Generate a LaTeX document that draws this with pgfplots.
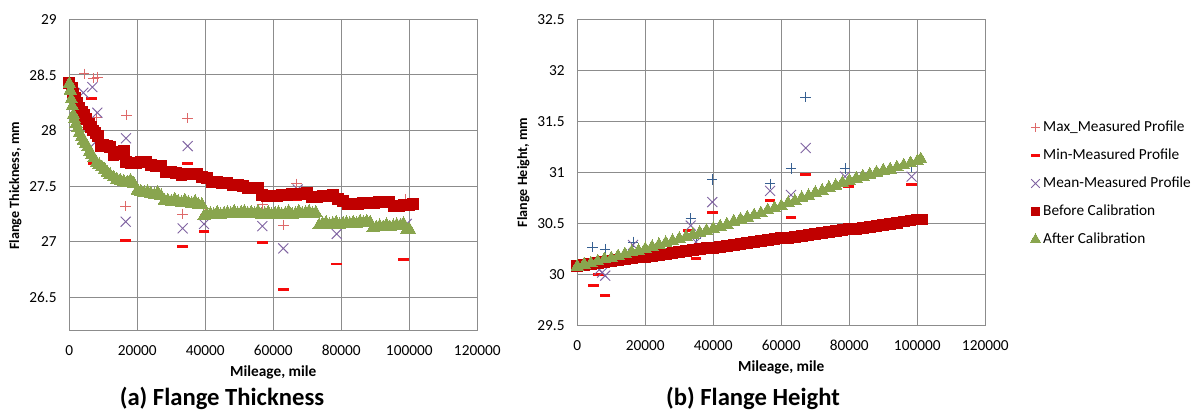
\documentclass[border=0pt]{standalone}
\usepackage{pgfplots}
\pgfplotsset{compat=1.18}
\usepackage{fontspec}
\setmainfont{Carlito}
\definecolor{gridgray}{RGB}{140,140,140}
\definecolor{maxpink}{RGB}{222,105,105}
\definecolor{maxblue}{RGB}{55,96,146}
\definecolor{minred}{RGB}{245,10,10}
\definecolor{meanpurple}{RGB}{128,100,162}
\definecolor{beforered}{RGB}{192,0,0}
\definecolor{aftergreen}{RGB}{137,165,78}
\pgfplotsset{
  exstyle/.style={
    scale only axis, width=306pt,
    xmin=0, xmax=120000, xtick={0,20000,40000,60000,80000,100000,120000},
    xticklabels={0,20000,40000,60000,80000,100000,120000},
    scaled x ticks=false, scaled y ticks=false,
    grid=major, major grid style={line width=0.8pt, color=gridgray},
    axis line style={line width=0.8pt, color=gridgray},
    major tick length=0pt,
    tick label style={font=\fontsize{11.5}{13}\selectfont, text=black},
    xticklabel style={anchor=center, yshift=-15pt},
    yticklabel style={anchor=east, xshift=-6pt},
    every axis x label/.style={at={(rel axis cs:0.5,0)}, anchor=center, yshift=-31.5pt, font=\bfseries\fontsize{11.5}{13}\selectfont},
  },
  maxL/.style={only marks, mark=+, mark size=3.9pt, color=maxpink, line width=0.6pt},
  maxR/.style={only marks, mark=+, mark size=3.9pt, color=maxblue, line width=0.6pt},
  minS/.style={only marks, mark=-, mark size=4pt, color=minred, line width=2.2pt},
  meanS/.style={only marks, mark=x, mark size=5.3pt, color=meanpurple, line width=0.7pt},
  befS/.style={only marks, mark=square*, mark size=4.1pt, color=beforered, mark options={draw=beforered, fill=beforered, line width=0pt}},
  aftS/.style={only marks, mark=triangle*, mark size=5.4pt, color=aftergreen, mark options={draw=aftergreen, fill=aftergreen, line width=0pt}},
}
\begin{document}
\begin{tikzpicture}
\useasboundingbox (0,0) rectangle (897.75pt,309pt);
% ---------------- (a) Flange Thickness ----------------
\begin{axis}[exstyle, height=233.55pt, at={(51.98pt,60.98pt)}, anchor=south west,
  ymin=26.2, ymax=29, ytick={26.5,27,27.5,28,28.5,29},
  yticklabels={26.5,27,27.5,28,28.5,29},
  every axis y label/.style={at={(rel axis cs:0,0.465)}, xshift=-40.5pt, rotate=90, anchor=center, font=\bfseries\fontsize{10.6}{12}\selectfont},
  xlabel={Mileage, mile}, ylabel={Flange Thickness, mm}]
\addplot[maxL] coordinates {(4400,28.51)(7060,28.47)(8350,28.48)(8060,28.12)(16880,28.14)(34820,28.11)(16580,27.32)(33350,27.25)(40100,27.25)(56770,27.34)(66880,27.52)(62940,27.15)(78640,27.43)(98730,27.38)};
\addplot[minS] coordinates {(6590,28.29)(7060,27.70)(16880,27.68)(34820,27.70)(16580,27.01)(33350,26.96)(39620,27.09)(56770,26.99)(66880,27.38)(62940,26.57)(78640,26.80)(98240,26.84)};
\addplot[meanS] coordinates {(4120,28.34)(6770,28.39)(8240,28.16)(7850,27.90)(16680,27.93)(34820,27.86)(16580,27.18)(33350,27.12)(39620,27.16)(56770,27.14)(67170,27.47)(62940,26.94)(78640,27.07)(99230,27.16)};
\addplot[befS] coordinates {(0,28.43)(700,28.38)(1200,28.33)(1700,28.29)(2300,28.25)(3000,28.20)(3600,28.17)(4300,28.14)(5000,28.10)(5700,28.06)(6300,28.03)(7000,28.00)(7700,27.98)(8400,27.95)(9200,27.86)(10000,27.87)(11000,27.86)(12000,27.85)(13000,27.78)(14000,27.79)(15000,27.81)(16000,27.82)(16700,27.72)(18000,27.71)(19500,27.71)(21000,27.72)(22500,27.72)(24000,27.69)(25500,27.68)(27000,27.68)(28500,27.63)(30000,27.63)(31500,27.62)(33000,27.60)(34500,27.61)(36000,27.61)(37500,27.61)(39000,27.58)(40500,27.57)(42000,27.54)(43500,27.54)(45000,27.53)(46500,27.53)(48000,27.51)(49500,27.51)(51000,27.50)(52500,27.48)(54000,27.48)(55500,27.48)(56700,27.42)(58000,27.41)(59500,27.41)(61000,27.41)(62500,27.42)(64000,27.42)(65500,27.43)(67000,27.43)(68500,27.43)(70000,27.44)(71500,27.40)(73000,27.40)(74500,27.41)(76000,27.41)(77500,27.42)(79000,27.38)(80500,27.37)(82000,27.34)(83500,27.34)(85000,27.34)(86500,27.35)(88000,27.35)(89500,27.35)(91000,27.36)(92500,27.36)(94000,27.36)(95500,27.32)(97000,27.32)(98500,27.33)(100000,27.33)(101200,27.34)};
\addplot[aftS] coordinates {(0,28.42)(300,28.36)(600,28.28)(900,28.22)(1200,28.14)(1500,28.10)(2000,28.06)(2500,28.02)(3000,27.98)(3600,27.94)(4200,27.91)(4800,27.88)(5400,27.85)(6000,27.81)(6600,27.78)(7200,27.75)(8000,27.71)(8800,27.69)(9600,27.67)(10400,27.65)(11200,27.62)(12000,27.60)(13000,27.58)(14000,27.56)(15000,27.55)(16000,27.54)(17000,27.53)(18000,27.55)(19000,27.52)(20000,27.46)(21000,27.45)(22000,27.44)(23000,27.45)(24000,27.43)(25000,27.42)(26000,27.44)(27000,27.41)(28000,27.37)(29000,27.37)(30000,27.36)(31000,27.38)(32000,27.36)(33000,27.35)(34000,27.37)(35000,27.35)(36000,27.34)(37000,27.36)(38000,27.33)(39000,27.33)(39600,27.23)(40500,27.24)(41500,27.25)(42500,27.24)(43500,27.26)(44500,27.24)(45500,27.25)(46500,27.26)(47500,27.25)(48500,27.27)(49500,27.25)(50500,27.26)(51500,27.27)(52500,27.25)(53500,27.26)(54500,27.25)(55500,27.27)(56500,27.24)(57500,27.25)(58500,27.26)(59500,27.24)(60500,27.25)(61500,27.26)(62500,27.24)(63500,27.25)(64500,27.27)(65500,27.24)(66500,27.25)(67500,27.27)(68500,27.25)(69500,27.26)(70500,27.27)(71500,27.25)(72500,27.26)(73500,27.15)(74500,27.16)(75500,27.17)(76500,27.15)(77500,27.16)(78500,27.17)(79500,27.15)(80500,27.16)(81500,27.17)(82500,27.16)(83500,27.17)(84500,27.16)(85500,27.18)(86500,27.17)(87500,27.18)(88500,27.17)(89300,27.12)(90300,27.13)(91300,27.14)(92300,27.13)(93300,27.15)(94300,27.13)(95300,27.14)(96300,27.15)(97300,27.14)(98300,27.16)(99300,27.11)(100000,27.11)};
\end{axis}
% ---------------- (b) Flange Height ----------------
\begin{axis}[exstyle, height=229.8pt, at={(432.98pt,64.73pt)}, anchor=south west,
  ymin=29.5, ymax=32.5, ytick={29.5,30,30.5,31,31.5,32,32.5},
  yticklabels={29.5,30,30.5,31,31.5,32,32.5},
  every axis y label/.style={at={(rel axis cs:0,0.5)}, xshift=-40.5pt, rotate=90, anchor=center, font=\bfseries\fontsize{10.6}{12}\selectfont},
  xlabel={Mileage, mile}, ylabel={Flange Height, mm},
  legend image code/.code={\draw[#1] plot coordinates {(0pt,0pt)};},
  legend cell align=left,
  legend style={at={(rel axis cs:1.1,0.464)}, anchor=west, draw=none, fill=none,
    font=\fontsize{11.5}{13}\selectfont, row sep=7.5pt},
  ]
\addlegendimage{maxL, mark size=3.5pt}
\addlegendimage{minS, mark size=3.5pt}
\addlegendimage{meanS, mark size=4.6pt}
\addlegendimage{befS, mark size=3.3pt}
\addlegendimage{aftS, mark size=4.4pt}
\legend{Max\_Measured Profile, Min-Measured Profile, Mean-Measured Profile, Before Calibration, After Calibration}
\addplot[maxR, forget plot] coordinates {(4500,30.27)(8150,30.25)(16400,30.32)(33350,30.55)(34900,30.35)(39700,30.93)(56700,30.89)(62850,31.04)(67170,31.74)(78730,31.04)(98340,31.06)};
\addplot[minS, forget plot] coordinates {(4700,29.89)(6200,30.00)(8150,29.80)(16400,30.20)(32650,30.43)(34900,30.16)(39700,30.61)(56700,30.73)(62850,30.56)(67170,30.98)(79700,30.86)(98340,30.88)};
\addplot[meanS, forget plot] coordinates {(6500,30.05)(7300,30.02)(8200,29.99)(16400,30.29)(33350,30.48)(34900,30.32)(39700,30.71)(56700,30.82)(62850,30.78)(67170,31.24)(78730,30.96)(98340,30.96)};
\addplot[befS, forget plot] coordinates {(0,30.08)(2000,30.09)(4000,30.10)(6000,30.11)(8000,30.12)(10000,30.13)(12000,30.14)(14000,30.15)(16000,30.16)(18000,30.17)(20000,30.17)(22000,30.18)(24000,30.19)(26000,30.20)(28000,30.21)(30000,30.22)(32000,30.23)(34000,30.24)(36000,30.25)(38000,30.26)(40000,30.26)(42000,30.27)(44000,30.28)(46000,30.29)(48000,30.30)(50000,30.31)(52000,30.32)(54000,30.33)(56000,30.34)(58000,30.35)(60000,30.36)(62000,30.36)(64000,30.37)(66000,30.38)(68000,30.39)(70000,30.40)(72000,30.41)(74000,30.42)(76000,30.43)(78000,30.44)(80000,30.45)(82000,30.45)(84000,30.46)(86000,30.47)(88000,30.48)(90000,30.49)(92000,30.50)(94000,30.51)(96000,30.52)(98000,30.53)(100000,30.54)(101500,30.54)};
\addplot[aftS, forget plot] coordinates {(0,30.08)(2000,30.10)(4000,30.11)(6000,30.13)(8000,30.15)(10000,30.16)(12000,30.18)(14000,30.20)(16000,30.22)(18000,30.23)(20000,30.25)(22000,30.27)(24000,30.29)(26000,30.31)(28000,30.33)(30000,30.35)(32000,30.37)(34000,30.39)(36000,30.41)(38000,30.43)(40000,30.45)(42000,30.47)(44000,30.49)(46000,30.52)(48000,30.54)(50000,30.56)(52000,30.58)(54000,30.60)(56000,30.63)(58000,30.65)(60000,30.67)(62000,30.70)(64000,30.72)(66000,30.75)(68000,30.77)(70000,30.80)(72000,30.82)(74000,30.85)(76000,30.87)(78000,30.90)(80000,30.92)(82000,30.94)(84000,30.96)(86000,30.98)(88000,31.00)(90000,31.02)(92000,31.03)(94000,31.05)(96000,31.07)(98000,31.09)(100000,31.11)(101000,31.13)};
\end{axis}
\node[font=\bfseries\fontsize{18.5}{22}\selectfont, inner sep=0pt] at (166.5pt,10.5pt) {(a) Flange Thickness};
\node[font=\bfseries\fontsize{18.5}{22}\selectfont, inner sep=0pt] at (564.75pt,10.5pt) {(b) Flange Height};
\end{tikzpicture}
\end{document}
